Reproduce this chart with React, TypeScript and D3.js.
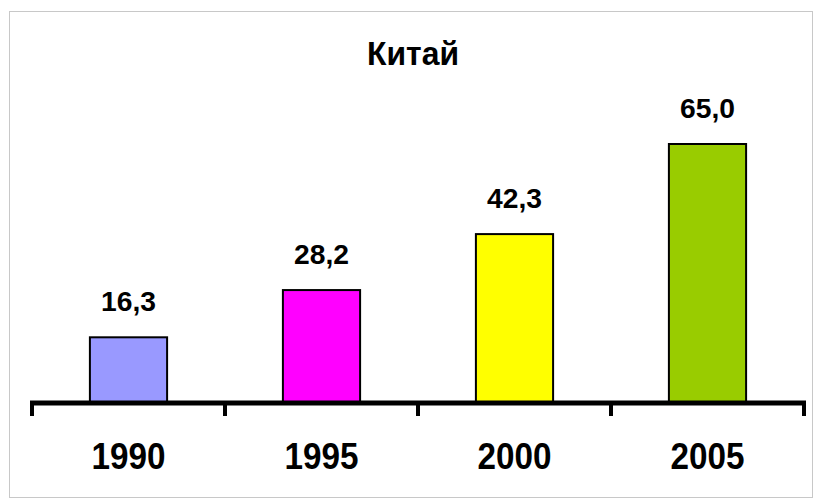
import React from "react";
import * as d3 from "d3";

const title = "Китай";
const years = ["1990", "1995", "2000", "2005"];
const values = [16.3, 28.2, 42.3, 65.0];
const colors = ["#9999FF", "#FF00FF", "#FFFF00", "#99CC00"];

const W = 816;
const H = 500;

export default function App() {
  const x = d3.scaleBand<string>().domain(years).range([32, 804]).paddingInner(0.6).paddingOuter(0.3);
  const y = d3.scaleLinear().domain([0, 65]).range([402, 144]);
  const step = x.step();
  const fmt = (v: number) => d3.format(".1f")(v).replace(".", ",");
  const font = "'Liberation Sans', Arial, sans-serif";
  const tickXs = d3.range(years.length + 1).map((i) => 32 + i * step);

  return (
    <svg width={W} height={H} style={{ position: "absolute", left: 0, top: 0 }}>
      <rect x={0} y={0} width={W} height={H} fill="#fff" />
      <rect x={9.5} y={11.5} width={803} height={486} fill="none" stroke="#c8c8c8" strokeWidth={1} />
      <text x={413} y={65} textAnchor="middle" fontFamily={font} fontWeight="bold" fontSize={33} textLength={92} lengthAdjust="spacingAndGlyphs">
        {title}
      </text>
      {years.map((yr, i) => (
        <g key={yr}>
          <rect
            x={x(yr)!}
            y={y(values[i])}
            width={x.bandwidth()}
            height={y(0) - y(values[i])}
            fill={colors[i]}
            stroke="#000"
            strokeWidth={2}
          />
          <text
            x={x(yr)! + x.bandwidth() / 2}
            y={y(values[i]) - 26}
            textAnchor="middle"
            fontFamily={font}
            fontWeight="bold"
            fontSize={28}
            textLength={55}
            lengthAdjust="spacingAndGlyphs"
          >
            {fmt(values[i])}
          </text>
          <text
            x={x(yr)! + x.bandwidth() / 2}
            y={469}
            textAnchor="middle"
            fontFamily={font}
            fontWeight="bold"
            fontSize={36}
            textLength={74}
            lengthAdjust="spacingAndGlyphs"
          >
            {yr}
          </text>
        </g>
      ))}
      <line x1={30} x2={806} y1={403} y2={403} stroke="#000" strokeWidth={5} />
      {tickXs.map((tx, i) => (
        <line key={i} x1={tx} x2={tx} y1={403} y2={416} stroke="#000" strokeWidth={4} />
      ))}
    </svg>
  );
}
